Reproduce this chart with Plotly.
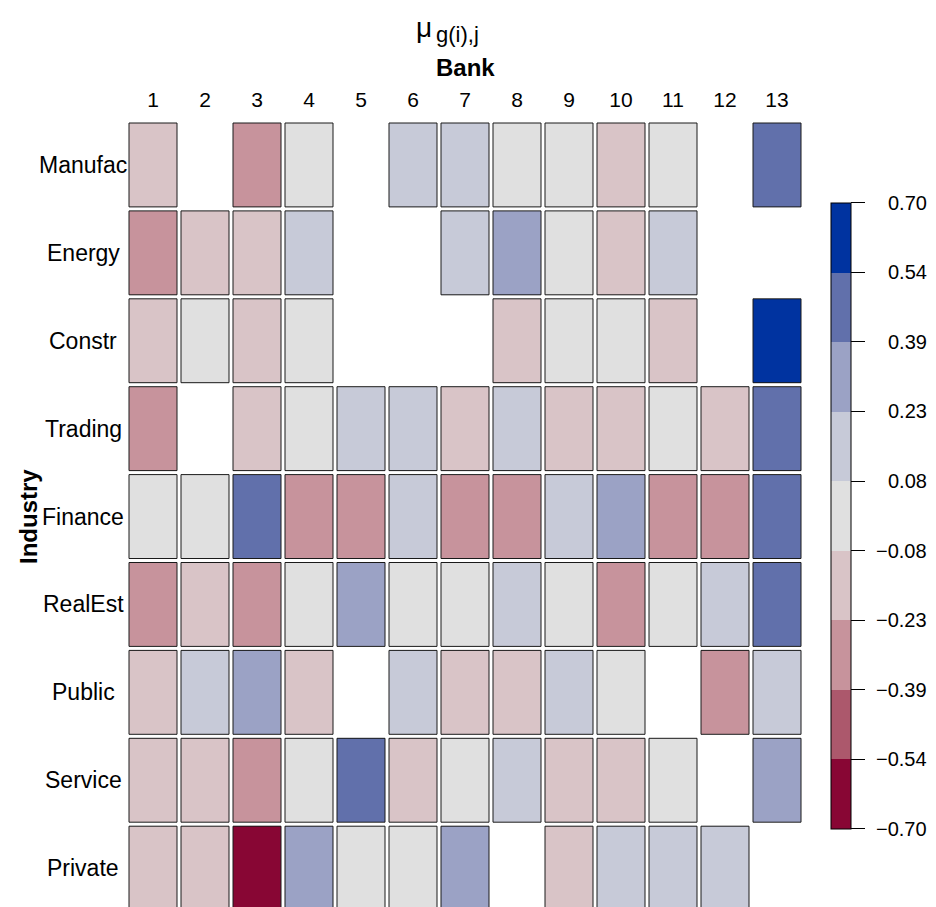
import plotly.graph_objects as go

banks = [str(i) for i in range(1, 14)]
industries = ["Manufac", "Energy", "Constr", "Trading", "Finance",
              "RealEst", "Public", "Service", "Private"]

N = None
manufac = [-0.15, N, -0.31, 0.00, N, 0.15, 0.15, 0.00, 0.00, -0.15, 0.00, N, 0.46]
energy  = [-0.31, -0.15, -0.15, 0.15, N, N, 0.15, 0.31, 0.00, -0.15, 0.15, N, N]
constr  = [-0.15, 0.00, -0.15, 0.00, N, N, N, -0.15, 0.00, 0.00, -0.15, N, 0.66]
trading = [-0.31, N, -0.15, 0.00, 0.15, 0.15, -0.15, 0.15, -0.15, -0.15, 0.00, -0.15, 0.46]
finance = [0.00, 0.00, 0.46, -0.31, -0.31, 0.15, -0.31, -0.31, 0.15, 0.31, -0.31, -0.31, 0.46]
realest = [-0.31, -0.15, -0.31, 0.00, 0.31, 0.00, 0.00, 0.15, 0.00, -0.31, 0.00, 0.15, 0.46]
public  = [-0.15, 0.15, 0.31, -0.15, N, 0.15, -0.15, -0.15, 0.15, 0.00, N, -0.31, 0.15]
service = [-0.15, -0.15, -0.31, 0.00, 0.46, -0.15, 0.00, 0.15, -0.15, -0.15, 0.00, N, 0.31]
private = [-0.15, -0.15, -0.68, 0.31, 0.00, 0.00, 0.31, N, -0.15, 0.15, 0.15, 0.15, N]

z = [manufac, energy, constr, trading, finance, realest, public, service, private]

bin_colors = ["#880634", "#AC586C", "#C7939C", "#D9C4C7", "#E0E0E0",
              "#C7CAD8", "#9BA2C5", "#6170AB", "#0033A0"]
zmin, zmax = -0.70, 0.70
nb = len(bin_colors)
edges = [zmin + k * (zmax - zmin) / nb for k in range(nb + 1)]
tick_text = [("%.2f" % e).replace("-", "\u2212") for e in edges]

colorscale = []
for k, c in enumerate(bin_colors):
    colorscale.append([k / nb, c])
    colorscale.append([(k + 1) / nb, c])

FONT = "Liberation Sans, Arial, sans-serif"

W, H = 936, 907
ML, MR, MT, MB = 127, 133, 121, 0
plot_w = W - ML - MR
plot_h = H - MT - MB
row_px = 87.9
col_px = plot_w / len(banks)
y_bottom = -0.5 + plot_h / row_px  # last row slightly cut by the page edge

cb_top, cb_bot = 202.7, 829.0


def px_x(x):
    return (x - ML) / plot_w


def px_y(y):
    return (H - MB - y) / plot_h


fig = go.Figure()
fig.add_trace(go.Heatmap(
    z=z, x=banks, y=industries,
    zmin=zmin, zmax=zmax, colorscale=colorscale,
    xgap=4, ygap=4, hoverongaps=False,
    colorbar=dict(
        thickness=20, len=(cb_bot - cb_top) / plot_h, lenmode="fraction",
        x=px_x(831), xref="paper", xanchor="left", xpad=0,
        y=px_y((cb_top + cb_bot) / 2), yref="paper",
        yanchor="middle", ypad=0,
        tickvals=edges, showticklabels=False,
        ticks="outside", ticklen=14, tickwidth=1, tickcolor="black",
        outlinewidth=1, outlinecolor="black",
    ),
))

hx = 0.5 - 2 / col_px
hy = 0.5 - 2 / row_px
shapes = []
for i, row in enumerate(z):
    for j, v in enumerate(row):
        if v is None:
            continue
        shapes.append(dict(type="rect", xref="x", yref="y",
                           x0=j - hx, x1=j + hx, y0=i - hy, y1=i + hy,
                           line=dict(color="#1a1a1a", width=1),
                           fillcolor="rgba(0,0,0,0)", layer="above"))

annotations = []
# colorbar tick labels, right-aligned like the reference
for e, t in zip(edges, tick_text):
    ypx = cb_bot - (e - zmin) / (zmax - zmin) * (cb_bot - cb_top)
    annotations.append(dict(text=t, x=px_x(929), xref="paper",
                            y=px_y(ypx), yref="paper",
                            xanchor="right", yanchor="middle", showarrow=False,
                            font=dict(family=FONT, size=20, color="black")))
for name in industries:
    annotations.append(dict(text=name, x=px_x(83), xref="paper",
                            y=name, yref="y", xanchor="center", yanchor="middle",
                            showarrow=False,
                            font=dict(family=FONT, size=23, color="black")))
annotations.append(dict(text="<b>Industry</b>", textangle=-90,
                        x=px_x(28), xref="paper", y=px_y(517), yref="paper",
                        xanchor="center", yanchor="middle", showarrow=False,
                        font=dict(family=FONT, size=24, color="black")))
annotations.append(dict(text="<b>Bank</b>", x=0.5, xref="paper",
                        y=px_y(68), yref="paper",
                        xanchor="center", yanchor="middle", showarrow=False,
                        font=dict(family=FONT, size=24, color="black")))
annotations.append(dict(text="\u03bc", x=px_x(434), xref="paper",
                        y=px_y(28), yref="paper",
                        xanchor="right", yanchor="middle", showarrow=False,
                        font=dict(family=FONT, size=28, color="black")))
annotations.append(dict(text="g(i),j", x=px_x(434), xref="paper",
                        y=px_y(34), yref="paper",
                        xanchor="left", yanchor="middle", showarrow=False,
                        font=dict(family=FONT, size=22, color="black")))

fig.update_layout(
    template="none",
    width=W, height=H,
    margin=dict(l=ML, r=MR, t=MT, b=MB, pad=0, autoexpand=False),
    paper_bgcolor="white", plot_bgcolor="white",
    font=dict(family=FONT, color="black"),
    shapes=shapes, annotations=annotations,
    xaxis=dict(side="top", type="category", range=[-0.5, len(banks) - 0.5],
               automargin=False,
               showgrid=False, zeroline=False, showline=False, ticks="",
               ticklabelstandoff=9,
               tickfont=dict(family=FONT, size=21, color="black")),
    yaxis=dict(type="category", range=[y_bottom, -0.5], automargin=False,
               showgrid=False, zeroline=False, showline=False,
               showticklabels=False, ticks=""),
)

fig.write_html("out.html", config={"displayModeBar": False},
               post_script="document.body.style.margin='0px';"
                           "document.body.style.overflow='hidden';")
